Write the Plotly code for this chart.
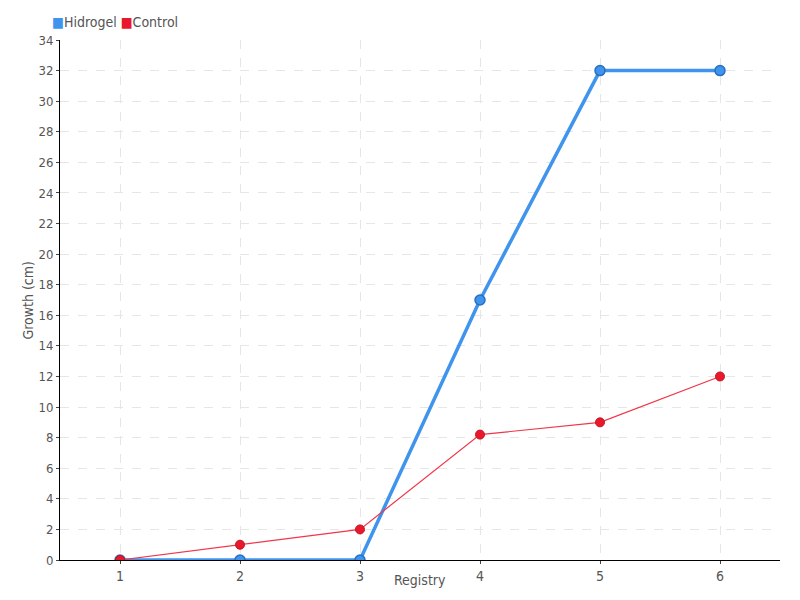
import plotly.graph_objects as go

registry = [1, 2, 3, 4, 5, 6]
hidrogel = [0, 0, 0, 17, 32, 32]
control = [0, 1, 2, 8.2, 9, 12]
yticks = list(range(0, 35, 2))

font = "Liberation Sans Narrow, DejaVu Sans Condensed, sans-serif"
txt = "#555555"
blue = "#3f94ee"
red = "#e8192c"

fig = go.Figure()
fig.add_trace(go.Scatter(
    x=registry, y=hidrogel, name="Hidrogel", mode="lines+markers", showlegend=False,
    line=dict(color=blue, width=3.5),
    marker=dict(size=10, color=blue, line=dict(color="#2a6fc0", width=1.5)),
))
fig.add_trace(go.Scatter(
    x=registry, y=control, name="Control", mode="lines+markers", showlegend=False,
    line=dict(color="#f0364a", width=1.2),
    marker=dict(size=9, color=red, line=dict(color="#c8101f", width=1)),
))

legend_text = (f"<span style='color:{blue}'>■</span>Hidrogel "
               f"<span style='color:{red}'>■</span>Control")

fig.update_layout(
    width=792, height=592,
    margin=dict(l=52, r=20, t=32, b=40, autoexpand=False),
    paper_bgcolor="white", plot_bgcolor="white",
    font=dict(family=font, size=14, color=txt),
    showlegend=False,
    xaxis=dict(
        range=[0.5, 6.5], tickvals=registry, ticktext=[str(r) for r in registry],
        showline=True, linecolor="black", linewidth=1, automargin=False,
        ticks="outside", ticklen=3, tickcolor="#444444",
        showgrid=True, gridcolor="#e6e6e6", griddash="dash", gridwidth=1,
        zeroline=False, tickfont=dict(size=14, color=txt),
    ),
    yaxis=dict(
        range=[0, 34], tickvals=yticks,
        showline=True, linecolor="black", linewidth=1, automargin=False,
        ticks="outside", ticklen=3, tickcolor="#444444",
        showgrid=True, gridcolor="#e6e6e6", griddash="dash", gridwidth=1,
        zeroline=False, tickfont=dict(size=13, color=txt),
    ),
    annotations=[
        dict(text="Registry", xref="paper", yref="paper", x=0.5, y=-0.0385,
             xanchor="center", yanchor="middle", showarrow=False,
             font=dict(size=14, color=txt)),
        dict(text="Growth (cm)", xref="paper", yref="paper", x=-0.045, y=0.5,
             xanchor="center", yanchor="middle", textangle=-90, showarrow=False,
             font=dict(size=14, color=txt)),
        dict(text=legend_text, xref="paper", yref="paper", x=-0.0139, y=1.0346,
             xanchor="left", yanchor="middle", showarrow=False,
             font=dict(size=14, color=txt)),
    ],
)

fig.write_html("out.html")
